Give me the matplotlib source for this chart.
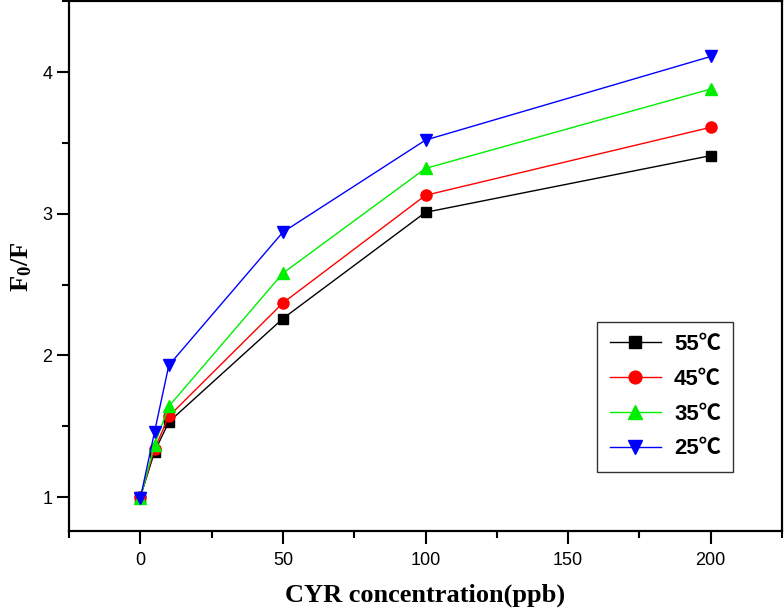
"""
F0/F vs CYR concentration at four temperatures.
"""
import matplotlib
matplotlib.use("Agg")
import matplotlib.pyplot as plt
from matplotlib.ticker import MultipleLocator

plt.rcParams["mathtext.fontset"] = "custom"
plt.rcParams["mathtext.rm"] = "Liberation Serif"
plt.rcParams["mathtext.bf"] = "Liberation Serif:bold"

conc = [0, 5, 10, 50, 100, 200]
f_55 = [1.00, 1.32, 1.53, 2.26, 3.01, 3.41]
f_45 = [1.00, 1.34, 1.57, 2.37, 3.13, 3.61]
f_35 = [0.99, 1.37, 1.64, 2.58, 3.32, 3.88]
f_25 = [0.99, 1.46, 1.93, 2.87, 3.52, 4.11]
labels = ["55\u2103", "45\u2103", "35\u2103", "25\u2103"]

fig = plt.figure(figsize=(7.84, 6.13), dpi=100)
ax = fig.add_axes([0.088, 0.133, 0.9095, 0.865])

ax.plot(conc, f_55, color="black", marker="s", ms=7, lw=1, label=labels[0])
ax.plot(conc, f_45, color="red", marker="o", ms=8, lw=1, label=labels[1])
ax.plot(conc, f_35, color="#00ee00", marker="^", ms=9, lw=1, label=labels[2])
ax.plot(conc, f_25, color="blue", marker="v", ms=9, lw=1, label=labels[3])

ax.set_xlim(-25, 225)
ax.set_ylim(0.757, 4.5)
ax.xaxis.set_major_locator(MultipleLocator(50))
ax.xaxis.set_minor_locator(MultipleLocator(25))
ax.yaxis.set_major_locator(MultipleLocator(1))
ax.yaxis.set_minor_locator(MultipleLocator(0.5))
ax.tick_params(which="major", direction="out", length=9, width=1.5, labelsize=13, pad=3)
ax.tick_params(which="minor", direction="out", length=5, width=1.5)
ax.tick_params(axis="x", which="major", pad=6)
for lab in ax.get_xticklabels() + ax.get_yticklabels():
    lab.set_family("Liberation Sans")
for s in ax.spines.values():
    s.set_linewidth(1.6)

ax.set_xlabel("CYR concentration(ppb)", fontfamily="Liberation Serif",
              fontweight="bold", fontsize=19, labelpad=10)
ax.set_ylabel(r"$\mathbf{F_0/F}$", fontsize=19, labelpad=6)

leg = ax.legend(loc="lower left", bbox_to_anchor=(0.741, 0.113), handlelength=2.3,
                handletextpad=0.6, fancybox=False, edgecolor="black", borderpad=0.55,
                labelspacing=0.62, borderaxespad=0, markerscale=1.15,
                prop={"family": ["Liberation Sans", "Noto Sans CJK SC"],
                      "weight": "bold", "size": 16})
leg.get_frame().set_linewidth(1.0)

fig.savefig("out.png", dpi=100)
